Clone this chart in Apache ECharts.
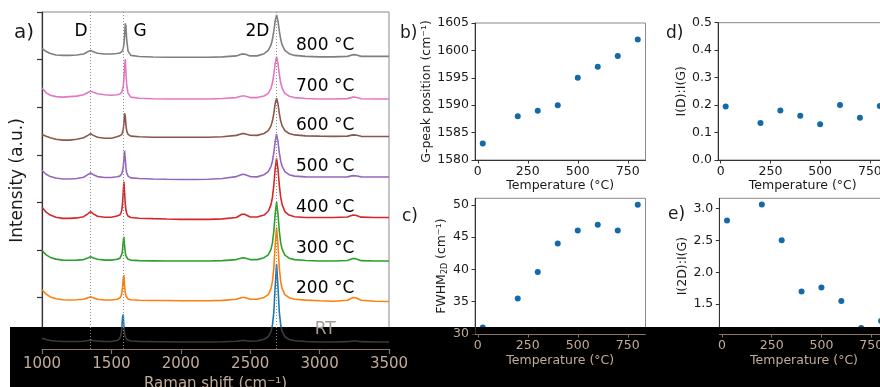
<!DOCTYPE html>
<html><head><meta charset="utf-8">
<script src="https://cdn.jsdelivr.net/npm/echarts@6/dist/echarts.min.js"></script>
<style>html,body{margin:0;padding:0;background:#fff}#c{width:880px;height:387px}</style>
</head><body><div id="c"></div>
<script>
// ---------- Panel a: Raman spectra (a.u. above each baseline) ----------
const ramanShift = [1000,1030,1060,1100,1150,1200,1250,1300,1330,1350,1370,1400,1450,1500,1540,1560,1570,1575,1580,1585,1590,1595,1600,1605,1610,1620,1640,1700,1800,1900,2000,2100,2200,2300,2400,2440,2460,2500,2550,2600,2630,2650,2660,2670,2680,2690,2700,2710,2720,2730,2750,2780,2820,2900,3000,3100,3200,3240,3260,3300,3400,3500];
const specRT  = [4,2.5,1.5,1,0.5,0.5,0.5, 0.8,1.5,2,1.5,1,0.5,0.5,1.5, 3.5,8,14.5,25.5,29,16.5,9,5.5,3.8,2.6,1.6,1,0.6, 0.3,0.2,0,0,0,0.2,0.8, 1.5,1.5,0.8,1,2.8, 5.5,11,17.5,31,58,82,58,31,17.5,11,5.5,2.6,1.3, 0.5,0,0,0.3,1,1,0.3,0,0];
const spec200 = [11.5,7,4,2,1,0.8,1, 1.5,3,4.2,3,1.5,0.8,0.8,1.5, 2.8,5,7.8,13.5,23,27,15,8.5,5,3.3,1.9,1,0.5, 0.3,0.2,0,0,0,0.4,1.5, 3.4,3.4,1.5,1.5,3.5, 6.5,12.8,20,34,58.5,77,58.5,34,20,12.8,6.5,3.2,1.6, 0.6,0,-0.5,0.5,3.4,3.2,0.5,-0.5,-0.8];
const spec300 = [11,6.5,3.8,2,1,0.8,1, 1.5,3.2,4.5,3.2,1.8,1,1,1.8, 2.8,4.5,7,11.5,20.2,25.5,16.2,9,5.3,3.5,1.9,1,0.4, 0.2,0,0,0,0,0.4,1.5, 3.3,3.3,1.5,1.5,3.5, 6.5,12.5,18.8,31,49.5,62,49.5,31,18.8,12.5,6.3,3,1.5, 0.5,0,0,0.5,2.7,2.5,0.4,0,0];
const spec400 = [12.6,7.5,4.5,2.2,1,1,1.5, 2.8,5.8,8,5.8,3.2,2.2,2.2,3.5, 4.5,7,10,16.3,28.5,39.5,28.5,16,9.5,6.3,3.5,2,1.2, 0.7,0.3,0,0,0,0.5,2, 5.3,5.3,2.5,2.5,4.5, 8.5,15.5,23,35.5,53,64,53,35.5,23,15.5,8.2,4.5,2.8, 2,2,2,2.5,4.5,4.3,2.3,2,2];
const spec500 = [9,5,2.5,1,0,0,0.5, 1.8,4.5,6.3,4.5,2.5,1.5,1.5,2.3, 3,4.2,5.5,7.5,12,21,29.7,21,11.5,6.5,3,1.2,0.5, 0,-0.3,-0.5,-0.5,-0.3,0.5,2.5, 4.8,4.7,2.5,2.2,4.5, 7.8,13.3,18.7,27.5,39.5,47,39.5,27.5,18.7,13.3,7.8,4.5,3, 2.2,2,2,2.2,3.5,3.3,2.2,2,2];
const spec600 = [3,1,-0.5,-2,-3,-3,-2, -0.5,2,3.8,2,0,-1,-1,0.5, 1.5,2.2,3,4.5,7.8,14.3,25.2,22,12.5,7,3,1.2,0.5, 0,0,0,0,0,0.5,2, 3.8,3.8,2.2,2,4, 7,12,17,24.8,35.5,41,35.5,24.8,17,12,7,4,2.5, 1.5,1.2,1,1.2,2.5,2.3,1,0.8,0.8];
const spec700 = [11.5,6.5,4,2.5,2,2.5,3, 4.5,6.8,8.3,7,5.5,4.5,4,4.5, 5,6,7.2,9.2,13,20.5,34,41.7,27,15,6,2,0.8, 0.3,0,0,0,0,0.5,1.5, 3.2,3.2,1.5,1.5,3.2, 6,11.5,16.8,25.5,37.5,44.4,37.5,25.5,16.8,11.5,6,3,1.5, 0.5,0,0,0.4,2,1.8,0.3,0,0];
const spec800 = [9.5,6,4,2.5,2,2,2.5, 3.5,5.8,7.3,5.8,4.3,3.5,3.5,4, 4.5,5,5.8,7,9,13.5,22.5,35.7,32,18.5,6.5,2,0.8, 0.3,0,0,0,0,0.5,1.5, 3.4,3.4,1.5,1.5,3.8, 7.2,13,18.7,27.5,38.3,44.4,38.3,27.5,18.7,13,7.2,3.8,2, 1,0.5,0.5,1,2.8,2.6,1,1,1];
const spectra = [specRT, spec200, spec300, spec400, spec500, spec600, spec700, spec800];
const spectrumNames = ['RT','200 °C','300 °C','400 °C','500 °C','600 °C','700 °C','800 °C'];
const spectrumOffsets = [3.4, 46.7, 88.4, 132.2, 174.6, 218.4, 258.6, 302.4];
const peakPositions = [1350, 1585, 2690];
const peakNames = ['D', 'G', '2D'];
const peakLabelX = [1281, 1706, 2552];
const ramanTicks = [1000, 1500, 2000, 2500, 3000, 3500];
const intensityTicks = [0, 50, 100, 150, 200, 250, 300, 350];

// ---------- Panels b–e ----------
const temperatures = [25, 200, 300, 400, 500, 600, 700, 800];
const gPeakPosition = [1583, 1588, 1589, 1590, 1595, 1597, 1599, 1602];
const fwhm2D = [31.0, 35.5, 39.6, 44.0, 46.0, 46.9, 46.0, 50.0];
const ratioDG = [0.195, 0.135, 0.18, 0.161, 0.13, 0.20, 0.154, 0.197];
const ratio2DG = [2.81, 3.06, 2.5, 1.70, 1.76, 1.55, 1.13, 1.24];
const tempTicks = [0, 250, 500, 750];
const gTicks = [1580, 1585, 1590, 1595, 1600, 1605];
const fwhmTicks = [30, 35, 40, 45, 50];
const dgTicks = [0, 0.1, 0.2, 0.3, 0.4, 0.5];
const r2dTicks = [1.5, 2.0, 2.5, 3.0];

// ---------- styles ----------
const colors = ['#1f77b4','#ff7f0e','#2ca02c','#d62728','#9467bd','#8c564b','#e377c2','#7f7f7f'];
const FONT = 'DejaVu Sans';
const DARK = '#1a1a1a', AX = '#333333', FRAME = '#8a8a8a';
const TAN = '#c2ab98', TANLINE = '#85746a';
const DOT = '#136aa6';

const chart = echarts.init(document.getElementById('c'), null, {renderer: 'canvas'});

function scatterX(gi, inBand) {
  return {
    type: 'value', gridIndex: gi, min: -13.75, max: 838.75, z: inBand ? 3 : 0,
    axisLine: {show: true, onZero: false, lineStyle: {color: inBand ? TANLINE : AX, width: 1}},
    axisTick: {show: true, length: 3.5, customValues: tempTicks, lineStyle: {color: inBand ? TANLINE : AX}},
    axisLabel: {customValues: tempTicks, fontSize: 12.5, fontFamily: FONT, color: inBand ? TAN : DARK, margin: 5, formatter: v => String(v)},
    splitLine: {show: false},
    name: 'Temperature (°C)', nameLocation: 'middle', nameGap: inBand ? 20 : 19,
    nameTextStyle: {fontSize: 12.5, fontFamily: FONT, color: inBand ? TAN : DARK}
  };
}
function scatterY(gi, min, max, ticks, name, gap, fmt, colorFn, rich, z) {
  return {
    type: 'value', gridIndex: gi, min: min, max: max, z: z || 0,
    axisLine: {show: true, onZero: false, lineStyle: {color: AX, width: 1}},
    axisTick: {show: true, length: 3.5, customValues: ticks, lineStyle: {color: AX}},
    axisLabel: {customValues: ticks, fontSize: 12.5, fontFamily: FONT, color: colorFn || DARK, margin: 6, formatter: fmt},
    splitLine: {show: false},
    name: name, nameLocation: 'middle', nameGap: gap,
    nameTextStyle: Object.assign({fontSize: 12.5, fontFamily: FONT, color: DARK}, rich ? {rich: rich} : {})
  };
}
const gridBase = {show: true, borderColor: FRAME, borderWidth: 1, backgroundColor: 'transparent', containLabel: false, outerBoundsMode: 'none'};

const lineSeries = spectra.map((s, k) => {
  const o = {
    type: 'line', xAxisIndex: 0, yAxisIndex: 0, symbol: 'none', showSymbol: false, silent: true, z: 2,
    data: ramanShift.map((x, i) => [x, spectrumOffsets[k] + s[i]]),
    lineStyle: {width: 1.6},
    itemStyle: {color: colors[k]}
  };
  if (k !== 0) o.lineStyle.color = colors[k];
  if (k === spectra.length - 1) {
    o.markLine = {
      symbol: ['none', 'none'], silent: true, animation: false,
      label: {show: false},
      lineStyle: {type: [1, 2], color: '#8c8c8c', width: 1},
      data: peakPositions.map(x => ({xAxis: x}))
    };
  }
  return o;
});

const labelSeriesBase = {
  type: 'scatter', xAxisIndex: 0, yAxisIndex: 0, symbolSize: 1, silent: true, z: 3,
  itemStyle: {color: 'rgba(0,0,0,0)', opacity: 1},
  label: {show: true, position: 'inside', formatter: p => p.name, fontSize: 17, fontFamily: FONT, color: '#000', opacity: 1}
};

const option = {
  animation: false,
  backgroundColor: '#fff',
  textStyle: {fontFamily: FONT},
  grid: [
    Object.assign({left: 42, top: 12, width: 347, height: 337}, gridBase),
    Object.assign({left: 475, top: 23, width: 170.5, height: 137}, gridBase),
    Object.assign({left: 475, top: 198.3, width: 170.5, height: 135.7}, gridBase),
    Object.assign({left: 718, top: 22.7, width: 169.5, height: 137.3}, gridBase),
    Object.assign({left: 719.3, top: 198.3, width: 169.5, height: 135.7}, gridBase)
  ],
  xAxis: [
    {
      type: 'value', gridIndex: 0, min: 1000, max: 3500, interval: 500, z: 3,
      axisLine: {show: true, onZero: false, lineStyle: {color: TANLINE, width: 1.2}},
      axisTick: {show: true, length: 5, customValues: ramanTicks, lineStyle: {color: TANLINE, width: 1.2}},
      axisLabel: {customValues: ramanTicks, fontSize: 15, fontFamily: FONT, color: TAN, margin: 8, formatter: v => String(v)},
      splitLine: {show: false},
      name: 'Raman shift (cm⁻¹)', nameLocation: 'middle', nameGap: 26,
      nameTextStyle: {fontSize: 15, fontFamily: FONT, color: TAN}
    },
    scatterX(1, false),
    scatterX(2, true),
    scatterX(3, false),
    scatterX(4, true)
  ],
  yAxis: [
    {
      type: 'value', gridIndex: 0, min: -4, max: 350,
      axisLine: {show: true, onZero: false, lineStyle: {color: AX, width: 1.2}},
      axisTick: {show: true, length: 5, customValues: intensityTicks, lineStyle: {color: AX, width: 1.2}},
      axisLabel: {show: false, customValues: intensityTicks},
      splitLine: {show: false},
      name: 'Intensity (a.u.)', nameLocation: 'middle', nameGap: 16,
      nameTextStyle: {fontSize: 17, fontFamily: FONT, color: DARK}
    },
    scatterY(1, 1580, 1605, gTicks, 'G-peak position (cm⁻¹)', 41, v => String(v)),
    scatterY(2, 30, 51, fwhmTicks, 'FWHM{sub|2D} (cm⁻¹)', 24, v => String(v),
      (v) => Number(v) === 30 ? TAN : DARK,
      {sub: {fontSize: 8, fontFamily: FONT, color: DARK, verticalAlign: 'bottom', padding: [6, 0, 0, 0]}}, 3),
    scatterY(3, 0, 0.5, dgTicks, 'I(D):I(G)', 29, v => Number(v).toFixed(1)),
    scatterY(4, 1.035, 3.156, r2dTicks, 'I(2D):I(G)', 28, v => Number(v).toFixed(1))
  ],
  visualMap: [{
    type: 'piecewise', show: false, seriesIndex: 0, dimension: 1,
    pieces: [{min: -10, max: 19.1, color: '#3a3a3a'}, {min: 19.1, max: 400, color: colors[0]}],
    outOfRange: {color: colors[0]}
  }],
  series: lineSeries.concat([
    Object.assign({}, labelSeriesBase, {
      data: spectrumNames.map((n, k) => ({name: n, value: [3040, spectrumOffsets[k] + 12.7],
        label: {color: k === 0 ? '#a69c98' : '#000'}}))
    }),
    Object.assign({}, labelSeriesBase, {
      data: peakNames.map((n, k) => ({name: n, value: [peakLabelX[k], 329]}))
    }),
    {type: 'scatter', xAxisIndex: 1, yAxisIndex: 1, symbolSize: 6, z: 1, itemStyle: {color: DOT, opacity: 1},
      data: temperatures.map((t, i) => [t, gPeakPosition[i]])},
    {type: 'scatter', xAxisIndex: 2, yAxisIndex: 2, symbolSize: 6, z: 1, itemStyle: {color: DOT, opacity: 1},
      data: temperatures.map((t, i) => [t, fwhm2D[i]])},
    {type: 'scatter', xAxisIndex: 3, yAxisIndex: 3, symbolSize: 6, z: 1, itemStyle: {color: DOT, opacity: 1},
      data: temperatures.map((t, i) => [t, ratioDG[i]])},
    {type: 'scatter', xAxisIndex: 4, yAxisIndex: 4, symbolSize: 6, z: 1, itemStyle: {color: DOT, opacity: 1},
      data: temperatures.map((t, i) => [t, ratio2DG[i]])}
  ]),
  graphic: [
    {type: 'rect', z: 1.5, silent: true, shape: {x: 10, y: 327, width: 870, height: 60}, style: {fill: '#000'}},
    {type: 'text', z: 5, x: 14, y: 33, style: {text: 'a)', fontSize: 20, fontFamily: FONT, fill: DARK, verticalAlign: 'middle'}},
    {type: 'text', z: 5, x: 400, y: 34, style: {text: 'b)', fontSize: 17, fontFamily: FONT, fill: DARK, verticalAlign: 'middle'}},
    {type: 'text', z: 5, x: 402, y: 217, style: {text: 'c)', fontSize: 17, fontFamily: FONT, fill: DARK, verticalAlign: 'middle'}},
    {type: 'text', z: 5, x: 666, y: 34, style: {text: 'd)', fontSize: 17, fontFamily: FONT, fill: DARK, verticalAlign: 'middle'}},
    {type: 'text', z: 5, x: 668, y: 215, style: {text: 'e)', fontSize: 17, fontFamily: FONT, fill: DARK, verticalAlign: 'middle'}}
  ]
};
chart.setOption(option);
</script>
</body></html>
